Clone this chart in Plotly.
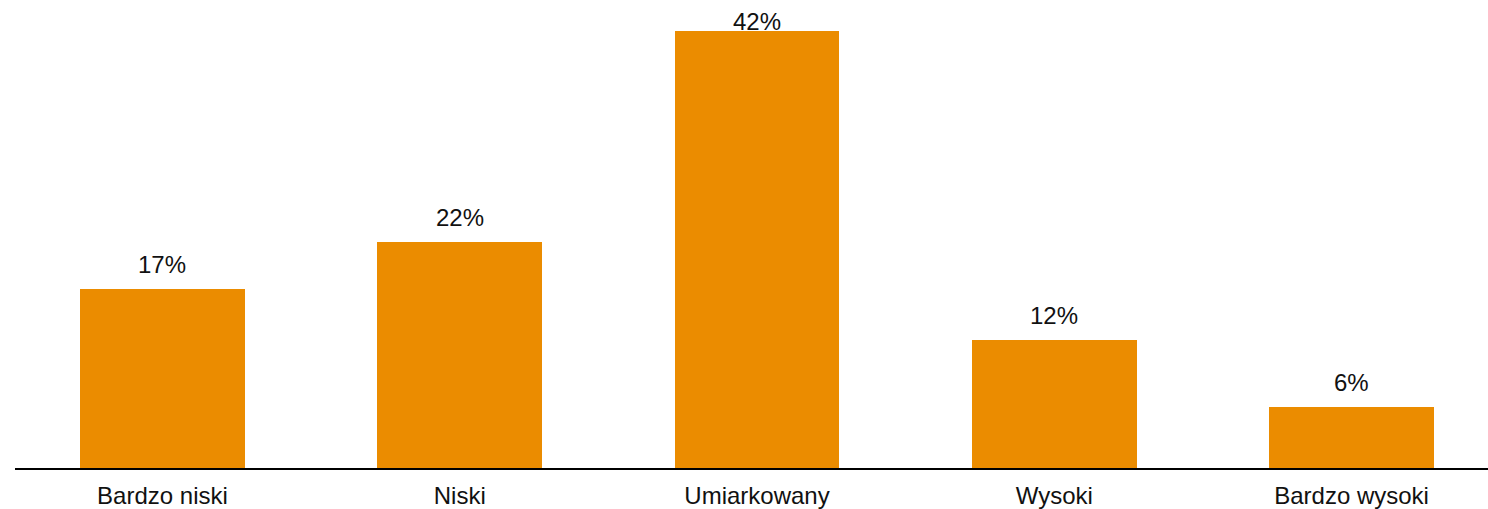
import plotly.graph_objects as go

categories = ["Bardzo niski", "Niski", "Umiarkowany", "Wysoki", "Bardzo wysoki"]
values = [17.2, 21.7, 42.0, 12.3, 5.9]
labels = ["17%", "22%", "42%", "12%", "6%"]

BAR_COLOR = "#EB8C00"
FONT = "Liberation Sans, Arial, sans-serif"
TEXT_COLOR = "#111111"
ymax = max(values)

fig = go.Figure()
fig.add_trace(go.Bar(
    x=list(range(len(categories))),
    y=values,
    marker=dict(color=BAR_COLOR, line=dict(width=0)),
    width=0.555,
    hoverinfo="skip",
))

for i, (v, t) in enumerate(zip(values, labels)):
    fig.add_annotation(
        x=i, y=v, text=t, showarrow=False,
        xref="x", yref="y", yanchor="bottom",
        yshift=9 if v < ymax else -6,
        font=dict(family=FONT, size=24, color=TEXT_COLOR),
    )

fig.update_layout(
    width=1488, height=509,
    margin=dict(l=15, r=0, t=31, b=41, autoexpand=False),
    paper_bgcolor="white", plot_bgcolor="white",
    showlegend=False,
    bargap=0,
    font=dict(family=FONT, size=24, color=TEXT_COLOR),
)
fig.update_xaxes(
    range=[-0.496, 4.459],
    automargin=False,
    tickmode="array",
    tickvals=list(range(len(categories))),
    ticktext=categories,
    showgrid=False, zeroline=False,
    showline=True, linecolor="#000000", linewidth=2,
    ticks="outside", ticklen=5, tickcolor="rgba(0,0,0,0)",
    tickfont=dict(family=FONT, size=24, color=TEXT_COLOR),
)
fig.update_yaxes(
    range=[0, ymax],
    automargin=False,
    visible=False, showgrid=False, zeroline=False,
)

fig.write_html(
    "out.html",
    config={"displayModeBar": False},
    post_script="document.body.style.margin='0';document.body.style.overflow='hidden';",
)
